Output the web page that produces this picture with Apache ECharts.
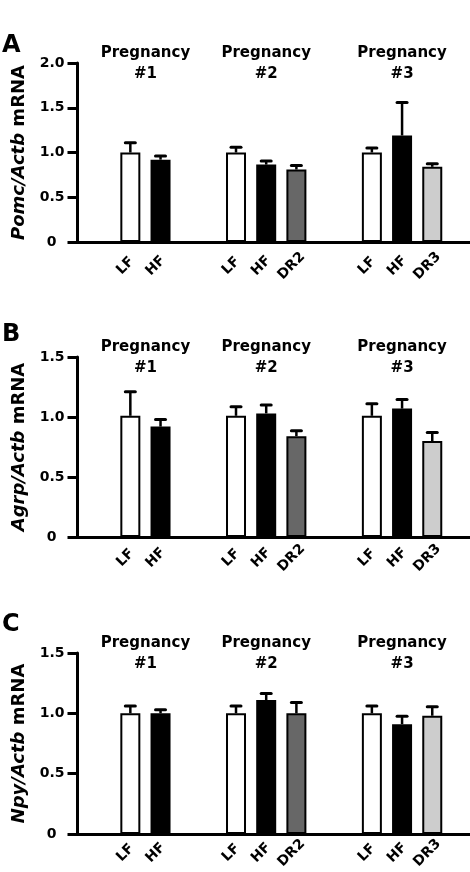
<!DOCTYPE html>
<html><head><meta charset="utf-8">
<script src="https://cdn.jsdelivr.net/npm/echarts@6/dist/echarts.min.js"></script>
<style>html,body{margin:0;padding:0;background:#fff}#c{width:470px;height:872px}</style>
</head><body><div id="c"></div>
<script>
// ---------------- data ----------------
const groupTitles = ['Pregnancy\n#1', 'Pregnancy\n#2', 'Pregnancy\n#3'];
const groupDiets = [['LF', 'HF'], ['LF', 'HF', 'DR2'], ['LF', 'HF', 'DR3']];
const panelLetters = ['A', 'B', 'C'];
const geneNames = ['Pomc', 'Agrp', 'Npy'];
const refGene = 'Actb';
const yMax = [2.0, 1.5, 1.5];
const yTickStep = 0.5;
// order: LF#1, HF#1, LF#2, HF#2, DR2, LF#3, HF#3, DR3
const pomcMean = [1.00, 0.92, 1.00, 0.865, 0.81, 1.00, 1.19, 0.84];
const pomcSem  = [0.11, 0.04, 0.06, 0.04, 0.045, 0.05, 0.37, 0.035];
const agrpMean = [1.01, 0.92, 1.01, 1.03, 0.84, 1.01, 1.07, 0.80];
const agrpSem  = [0.20, 0.06, 0.075, 0.07, 0.045, 0.10, 0.075, 0.07];
const npyMean  = [1.00, 1.00, 1.00, 1.11, 1.00, 1.00, 0.91, 0.98];
const npySem   = [0.06, 0.03, 0.06, 0.055, 0.09, 0.06, 0.065, 0.075];
const panelMeans = [pomcMean, agrpMean, npyMean];
const panelSems = [pomcSem, agrpSem, npySem];

// ---------------- style / layout ----------------
const dietColors = { LF: '#ffffff', HF: '#000000', DR2: '#676767', DR3: '#cdcdcd' };
const FONT = '"DejaVu Sans", "Liberation Sans", Arial, sans-serif';
const SLOTS = 26;
const groupStartSlot = [3, 10, 19];
const slotStep = 2;
const gridTops = [63, 357, 653];
const gridHeights = [179, 180, 181];
const letterTops = [34, 323, 613];
const xLabelMargins = [19, 16, 14];

// slot bookkeeping
const slotNames = Array.from({ length: SLOTS }, (_, i) => 's' + i);
const slotLabels = Array(SLOTS).fill('');
const barSlots = [];
const barDiets = [];
const groupCenters = [];
groupDiets.forEach((diets, g) => {
  diets.forEach((d, k) => {
    const s = groupStartSlot[g] + k * slotStep;
    slotLabels[s] = d;
    barSlots.push(s);
    barDiets.push(d);
  });
  groupCenters.push(groupStartSlot[g] + (diets.length - 1) * slotStep / 2);
});

const grids = [], xAxes = [], yAxes = [], series = [], graphics = [];
for (let p = 0; p < 3; p++) {
  grids.push({ left: 77.5, right: 0, top: gridTops[p], height: gridHeights[p], outerBoundsMode: 'none', containLabel: false });
  xAxes.push({
    gridIndex: p, type: 'category', data: slotNames, boundaryGap: true,
    axisLine: { show: true, lineStyle: { color: '#000', width: 3 } },
    axisTick: { show: false },
    splitLine: { show: false },
    axisLabel: {
      interval: 0, rotate: 45, margin: xLabelMargins[p], color: '#000',
      align: 'center', verticalAlign: 'middle', padding: [0, 14, 0, 0],
      fontFamily: FONT, fontWeight: 'bold', fontSize: 14,
      formatter: (v, i) => slotLabels[i]
    }
  });
  yAxes.push({
    gridIndex: p, type: 'value', min: 0, max: yMax[p], interval: yTickStep,
    axisLine: { show: true, lineStyle: { color: '#000', width: 3 } },
    axisTick: { show: true, length: 10, lineStyle: { color: '#000', width: 3 } },
    splitLine: { show: false },
    axisLabel: {
      margin: 13, color: '#000', fontFamily: FONT, fontWeight: 'bold', fontSize: 14,
      formatter: v => (v === 0 ? '{z|0}' : v.toFixed(1)),
      rich: { z: { fontFamily: FONT, fontWeight: 'bold', fontSize: 14, color: '#000', padding: [0, 8, 0, 0] } }
    },
    name: '{i|' + geneNames[p] + '/' + refGene + '} mRNA',
    nameLocation: 'middle', nameGap: 46,
    nameTextStyle: {
      color: '#000', fontFamily: FONT, fontWeight: 'bold', fontSize: 18,
      rich: { i: { fontFamily: FONT, fontWeight: 'bold', fontStyle: 'italic', fontSize: 18, color: '#000' } }
    }
  });

  const means = panelMeans[p], sems = panelSems[p];
  const barData = Array(SLOTS).fill('-');
  const errData = [];
  barSlots.forEach((s, k) => {
    barData[s] = { value: means[k], itemStyle: { color: dietColors[barDiets[k]] } };
    errData.push([s, means[k], means[k] + sems[k]]);
  });
  series.push({
    type: 'bar', xAxisIndex: p, yAxisIndex: p, data: barData, barWidth: 20,
    itemStyle: { borderColor: '#000', borderWidth: 2 }, silent: true, animation: false, z: 2
  });
  series.push({
    type: 'custom', xAxisIndex: p, yAxisIndex: p, data: errData, clip: false, animation: false, z: 3,
    encode: { x: 0, y: [1, 2] },
    renderItem: (params, api) => {
      const x = api.value(0);
      const lo = api.coord([x, api.value(1)]);
      const hi = api.coord([x, api.value(2)]);
      return {
        type: 'group', children: [
          { type: 'line', shape: { x1: lo[0], y1: lo[1], x2: hi[0], y2: hi[1] }, style: { stroke: '#000', lineWidth: 2.5 } },
          { type: 'line', shape: { x1: hi[0] - 5, y1: hi[1], x2: hi[0] + 5, y2: hi[1] }, style: { stroke: '#000', lineWidth: 3, lineCap: 'round' } }
        ]
      };
    }
  });
  series.push({
    type: 'custom', xAxisIndex: p, yAxisIndex: p, clip: false, animation: false, z: 4,
    data: groupCenters.map((c, g) => [c, 0, g]),
    encode: { x: 0, y: 1 },
    renderItem: (params, api) => {
      const x = api.coord([api.value(0), 0])[0];
      const cs = params.coordSys;
      return {
        type: 'text', x: x, y: cs.y - 20,
        style: {
          text: groupTitles[api.value(2)], align: 'center', verticalAlign: 'top',
          fontFamily: FONT, fontWeight: 'bold', fontSize: 15, lineHeight: 21, fill: '#000'
        }
      };
    }
  });
  graphics.push({
    type: 'text', left: 2, top: letterTops[p],
    style: { text: panelLetters[p], fontFamily: FONT, fontWeight: 'bold', fontSize: 24, fill: '#000' }
  });
}

const chart = echarts.init(document.getElementById('c'), null, { renderer: 'canvas' });
chart.setOption({
  backgroundColor: '#ffffff',
  animation: false,
  grid: grids, xAxis: xAxes, yAxis: yAxes, series: series, graphic: graphics
});
</script>
</body></html>
